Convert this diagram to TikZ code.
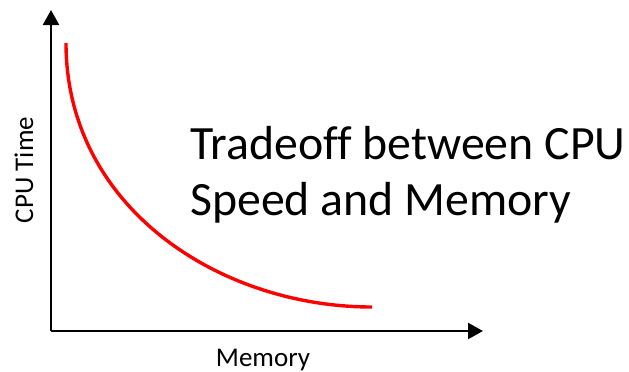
\documentclass[tikz,border=0pt]{standalone}
\usepackage{fontspec}
\setmainfont{Carlito}[Ligatures=NoCommon]
\usetikzlibrary{arrows.meta}
\tikzset{
  axis/.style={line width=2.4pt, -{Triangle[length=15pt,width=16pt]}},
  curve/.style={red, line width=3.4pt},
  label/.style={inner sep=0pt, font=\fontsize{27}{30}\selectfont},
  title/.style={inner sep=0pt, anchor=base west, font=\fontsize{47.8}{57}\selectfont}
}
\begin{document}
\begin{tikzpicture}[x=1pt,y=-1pt]
  \useasboundingbox (0,0) rectangle (629,372);
  % axes
  \coordinate (origin) at (51,331);
  \coordinate (ytip) at (51,10);
  \coordinate (xtip) at (483,331);
  \draw[axis] (origin) -- (ytip);
  \draw[axis] (origin) -- (xtip);
  % trade-off curve
  \coordinate (cstart) at (66,43);
  \coordinate (cend) at (372,307);
  \draw[curve] (cstart) .. controls (66,207) and (219,307) .. (cend);
  % axis labels
  \node[label, anchor=base, rotate=90] (ylab) at (33,170) {CPU Time};
  \node[label, anchor=base] (xlab) at (263,366) {Memory};
  % title
  \node[title] (t1) at (190,159) {Tradeoff between CPU};
  \node[title] (t2) at (190,215) {Speed and Memory};
\end{tikzpicture}
\end{document}
